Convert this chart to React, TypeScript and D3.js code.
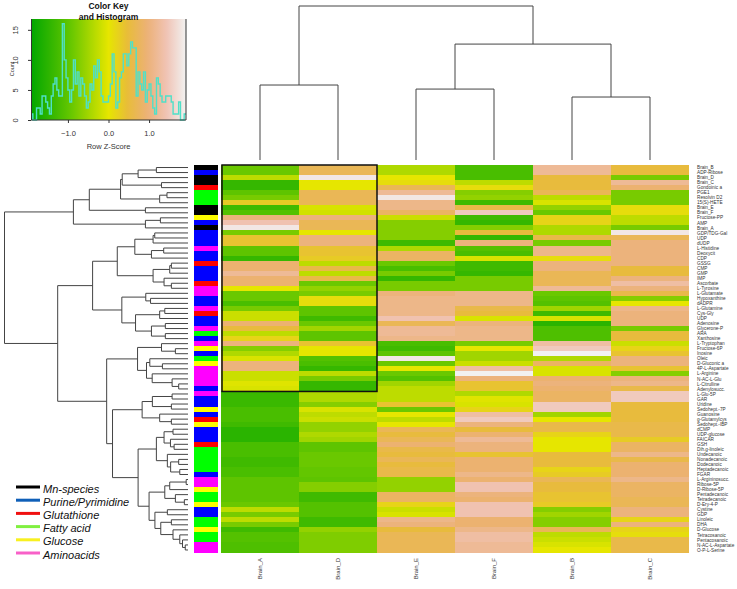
import { useEffect, useRef } from "react";
import * as d3 from "d3";

const columns = ["Brain_A", "Brain_D", "Brain_E", "Brain_F", "Brain_B", "Brain_C"];

const rowLabels = [
  "Brain_B", "ADP-Ribose", "Brain_D", "Brain_C", "Gondoinic a", "PGE1", "Resolvin D2", "15(S)-HETE",
  "Brain_E", "Brain_F", "Fructose-PP", "AMP", "Brain_A", "GDP/TDG-Gal", "UDP", "dUDP", "L-Histidine",
  "Deoxycit", "CDP", "GSSG", "CMP", "GMP", "IMP", "Ascorbate", "L-Tyrosine", "L-Glutamate",
  "Hypoxanthine", "dADPR", "L-Glutamine", "Cys-Gly", "UDP", "Adenosine", "Glycerone-P", "ARA",
  "Xanthosine", "L-Tryptophan", "Fructose-6P", "Inosine", "Oleic", "D-Gluconic a", "4P-L-Aspartate",
  "L-Arginine", "N-AC-L-Glu", "L-Citrulline", "Adenylosucc.", "L-Glu-5P", "GAR", "Uridine",
  "Sedohept.-7P", "Guanosine", "g-Glutamylcys", "Sedohept.-IBP", "dCMP", "UDP-glucose", "FAICAR",
  "GSH", "Dih.g-linoleic", "Undecanoic", "Nonadecanoic", "Dodecanoic", "Heptadecanoic", "FGAR",
  "L-Argininosucc.", "Ribose-5P", "D-Ribose-5P", "Pentadecanoic", "Tetradecanoic", "D-Ery-4-P",
  "Cystine", "GDP", "Linoleic", "DHA", "D-Glucose", "Tetracosanoic", "Pentacosanoic",
  "N-AC-L-Aspartate", "O-P-L-Serine",
];

// row z-scores, one array per column
const brainA = [
  -0.9, -0.9, -0.3, -1.4, -1.4, -1, -0.8, 0.3, -1.3, -1.1, 1, 1.4, 1.8, -0.8, 0.4, 0.4, -1, -1, -1.4, 0.9,
  0.9, 1.2, 0.9, 0.9, 0, -0.9, -0.9, -1.2, -0.8, -0.2, -0.2, 0.9, 0.5, -0.3, 0.2, 1, -0.7, -0.4, -0.1, 1,
  1, -0.2, -0.2, -0.05, -0.1, -1.35, -1.35, -1.35, -1.2, -1.2, -1.2, -1.3, -1.5, -1.5, -1.5, -1.2, -1.2,
  -1.2, -1.3, -1.3, -1.2, -1.2, -1, -1, -1, -1, -1, -0.9, -0.3, -0.8, -0.3, -0.8, -1.3, -1.1, -1.1, -1.15, -1.15,
];
const brainD = [
  0.7, 0.7, 1.8, 0, 0, 0.7, 0.7, 0.7, -0.1, -0.15, 1, 0.7, 0.7, 0, 1, 1, 0.4, 0.4, 0.3, -0.3,
  0.6, -0.3, 0.6, -0.9, -0.6, -0.8, 0.1, 0.1, -1, -1, -1.3, -0.9, -0.5, -1, -1, 0.4, 0, 0, -1.1, -1.2,
  -1.4, -0.3, -0.8, -1.4, -1.4, -0.4, -0.4, -0.7, -0.1, -0.3, -0.2, -0.6, -0.6, -0.4, -0.5, -1, -1,
  -0.9, -0.9, -0.9, -0.95, -0.95, -1, -0.7, -0.7, -1.3, -1.3, -1.1, -1.1, -1.1, -1.3, -1.3, -0.6, -0.75, -0.75, -0.75, -0.75,
];
const brainE = [
  -0.4, -0.4, 0, 0.1, 0.7, 1.2, 1.8, 1.1, 1.1, 0.8, -0.2, -0.7, -0.7, -0.7, -0.7, -1.3, -0.4, 0.8, 0.8, -0.9,
  -1.2, -0.8, -1.4, -0.8, -0.8, 1, 1.1, 1.1, 1.1, 1.1, 1.4, 0.7, 1.2, 1.2, 1.1, -1.2, -1.3, -1, 1.8, -0.9,
  0, -0.9, -1.1, -0.5, -0.3, -0.3, -0.3, 0.4, -0.9, 0, -0.3, 0, 0.7, 0.5, 0.7, 0.9, 0.6, 0.5, 0.7, 0.5,
  0.6, 0.6, -0.6, -0.6, -0.6, 0.8, 0.8, 0.2, -0.2, -0.1, 1.1, 1, 0.5, 0.7, 0.7, 0.7, 0.7,
];
const brainF = [
  -1.2, -1.2, -1.2, -0.3, 0.1, -0.7, -0.6, -1.3, 0.6, 1.5, -1.3, -1.4, -0.7, 0.5, -1.4, 1, -1.1, -1.2, -0.1, -1.3,
  -1.3, -1.4, -0.8, -0.8, -0.8, 1.1, 1.1, 1.1, 0.6, 0.5, -0.1, 1, 1.1, 1.1, 1.1, -0.8, 0, -0.5, -0.5, -0.2,
  1.3, 1.9, 1, 0.4, 0.4, -0.4, -0.05, -0.1, 0.2, 1.3, 1.5, 1, 0.5, 0.9, 1.2, 1, 1, 0.4, 0.9, 0.9,
  0.9, 1.1, 0.9, 1.4, 1.4, 1, 0.9, 1.4, 1.4, 1.4, 0.9, 0.9, 1.1, 1.3, 1.3, 1.2, 1.2,
];
const brainB = [
  1.2, 1.2, 0.5, 0.5, 0.5, 0.7, -0.3, -0.1, -0.6, -0.9, 0.2, 0.2, -0.4, -0.4, 0.6, -0.8, 1.1, 1.1, 0.1, 1,
  1, 0.7, 0.7, 0.7, 1.2, -0.9, -1, -1.1, -0.5, -1.3, -0.1, -1.5, -1.15, -1.15, -1.15, 1.3, 1.5, 1.9, -0.4, 0.8,
  -0.1, -0.1, 0.9, 1, 0.9, 0.8, 0.8, 1.5, 1.5, -0.5, 0, 0.6, 0.6, 0.2, 0, 0, 0, 0.5, 0.5, 0.5,
  0.2, 0.3, 0.7, 0.5, 0.5, 0.4, 0.4, 0.3, -0.7, -0.5, -0.7, -0.7, 0.7, -0.3, -0.2, -0.1, 0,
];
const brainC = [
  0.5, 0.5, -0.8, 1.2, 0.9, -0.8, -0.8, -0.8, 0.1, 0.1, -0.3, -0.3, -0.8, 1.8, 0.7, 1, 1, 1, 1, 1,
  0.5, 0.5, 1, 1.3, 1, 0.6, -0.7, 0, 1.1, 1, 1, 1, -0.8, 0.5, 0.5, -0.2, 0.2, 0.4, 1, 1,
  0.4, -0.7, 1, 1.1, 0.6, 1.5, 1.5, 0.5, 0.5, 0.5, 0.5, 0.6, 0.6, 0.6, 0.3, 0.8, 0.8, 1.1, 0.6, 0.9,
  0.9, 0.9, 1.1, 0.8, 0.8, 0.8, 0.7, 0.7, 1, 1, 0.2, 1, 0.2, 0.1, 0.6, 0.6, 0.6,
];
const values = [brainA, brainD, brainE, brainF, brainB, brainC];

const classColors = { M: "#000000", P: "#0000ff", R: "#ff0000", G: "#00ff00", Y: "#ffff00", A: "#ff00ff" };
// row class side bar, top to bottom
const rowClasses =
  "MPMMRGGGMMYPMPPPAPPRPPPRAAPPARPPAGPAYPGYAAAAPAPPYPRYPPPRGGGGGPAAYGGYPPGGYGGAA";

const legendLabels = ["Mn-species", "Purine/Pyrimidine", "Glutathione", "Fatty acid", "Glucose", "Aminoacids"];
const legendColors = ["#000000", "#0f5fb8", "#f01010", "#80f040", "#f8f020", "#f860c8"];

// histogram counts of the colour key
const histCounts = [
  1, 0, 0, 2, 2, 1, 4, 4, 3, 2, 1, 4, 6, 7, 5, 4, 4, 16, 10, 7, 5, 3, 5, 10, 6, 8, 4, 7, 6, 4, 2, 3, 6, 5,
  9, 7, 10, 8, 4, 3, 3, 3, 4, 6, 11, 8, 2, 3, 7, 8, 11, 11, 9, 11, 13, 12, 12, 4, 8, 6, 5, 8, 3, 5, 6, 4,
  2, 1, 7, 6, 4, 3, 3, 4, 4, 4, 3, 1, 1, 1, 3, 0, 0, 1,
];

// dendrograms: [height, left, right], a plain number is a leaf
type Tree = number | [number, Tree, Tree];

const rowTree: Tree = [10.04,
  [6.27,
    [5.4,
      [3.69,
        [3.6, [2.73, [1.73, 0, 1], 2], [1.45, 3, 4]],
        [1.55, [1.15, 5, 6], 7],
      ],
      [2.33, 8, 9],
    ],
    [2.33, [1.51, 10, 11], 12],
  ],
  [7.13,
    [5.22,
      [3.87,
        [2.91, [1.91, [1.82, 13, 14], 15], [2.0, [1.33, 16, 17], 18]],
        [1.91, [1.0, [0.91, 19, 20], 21], [1.31, 22, [0.91, 23, 24]]],
      ],
      [3.62,
        [2.31, 25, [2.05, 26, 27]],
        [2.87,
          [1.55, [1.27, 28, 29], 30],
          [2.0, [1.24, 31, 32], [1.24, 33, 34]],
        ],
      ],
    ],
    [4.45,
      [2.76,
        [1.45, 35, [0.69, 36, 37]],
        [2.27,
          [2.09, 38, [1.4, 39, 40]],
          [1.96, 41, [0.87, 42, [0.51, 43, 44]]],
        ],
      ],
      [4.13,
        [2.51,
          [1.95, [0.87, 45, 46], [0.91, 47, 48]],
          [1.55, 49, [0.91, 50, 51]],
        ],
        [2.73,
          [1.73,
            [1.31, [0.82, 52, 53], [0.96, 54, [0.76, 55, 56]]],
            [1.13, 57, [0.95, [0.51, 58, 59], [0.45, 60, 61]]],
          ],
          [2.13,
            [1.27, [1.0, [0.1, 62, 63], 64], [0.69, 65, [0.2, 66, 67]]],
            [1.81,
              [1.13, 68, 69],
              [1.49, [0.91, 70, 71], [0.82, 72, [0.45, 73, [0.3, 74, [0.15, 75, 76]]]]],
            ],
          ],
        ],
      ],
    ],
  ],
];

const colTree: Tree = [10.27,
  [5, 0, 1],
  [7.73, [4.73, 2, 3], [4.2, 4, 5]],
];

const sans = "'Liberation Sans', Arial, sans-serif";

// draws the elbows of a tree; pos gives the leaf position, depth the height position
function drawTree(g, tree: Tree, pos: (i: number) => number, depth: (h: number) => number, vertical: boolean) {
  const root = d3.hierarchy<Tree>(tree, (d) => (typeof d === "number" ? null : [d[1], d[2]]));
  root.eachAfter((n: any) => {
    if (n.children) {
      n.p = (n.children[0].p + n.children[1].p) / 2;
      n.h = n.data[0];
    } else {
      n.p = pos(n.data);
      n.h = 0;
    }
  });
  const path = d3.path();
  root.each((n: any) => {
    if (!n.children) return;
    const [a, b] = n.children;
    const xy = (p: number, h: number): [number, number] => (vertical ? [p, depth(h)] : [depth(h), p]);
    path.moveTo(...xy(a.p, a.h));
    path.lineTo(...xy(a.p, n.h));
    path.lineTo(...xy(b.p, n.h));
    path.lineTo(...xy(b.p, b.h));
  });
  g.append("path").attr("d", path.toString()).attr("fill", "none").attr("stroke", "#444").attr("stroke-width", 1);
}

export default function App() {
  const svgRef = useRef<SVGSVGElement>(null);

  useEffect(() => {
    const svg = d3.select(svgRef.current);
    svg.selectAll("*").remove();

    const color = d3
      .scaleLinear<string>()
      .domain([-1.91, -0.95, 0, 0.475, 0.95, 1.43, 1.91])
      .range(["#00a600", "#63c600", "#e6e600", "#e8bc3a", "#ecb176", "#f0c3b4", "#f2f2f2"])
      .clamp(true);

    const x = d3.scaleBand<number>().domain(d3.range(columns.length)).range([221, 689]);
    const y = d3.scaleBand<number>().domain(d3.range(rowLabels.length)).range([165, 552.5]);

    // heatmap cells
    const cells = svg.append("g").attr("shape-rendering", "crispEdges");
    values.forEach((col, c) => {
      cells
        .selectAll(null)
        .data(col)
        .join("rect")
        .attr("x", x(c)!)
        .attr("y", (_, r) => y(r)!)
        .attr("width", x.bandwidth())
        .attr("height", y.bandwidth() + 0.5)
        .attr("fill", (d) => color(d));
    });

    // side colour bar
    svg
      .append("g")
      .attr("shape-rendering", "crispEdges")
      .selectAll("rect")
      .data(rowClasses.split(""))
      .join("rect")
      .attr("x", 194)
      .attr("width", 24)
      .attr("y", (_, r) => y(r)!)
      .attr("height", y.bandwidth() + 0.5)
      .attr("fill", (d) => classColors[d]);

    // box round the Brain_A / Brain_D block
    svg
      .append("rect")
      .attr("x", x(0)! + 1)
      .attr("y", y(0)!)
      .attr("width", 2 * x.bandwidth() - 1)
      .attr("height", y(45)! - y(0)!)
      .attr("fill", "none")
      .attr("stroke", "#111")
      .attr("stroke-width", 1.5);

    // row labels
    svg
      .append("g")
      .selectAll("text")
      .data(rowLabels)
      .join("text")
      .attr("x", 697)
      .attr("y", (_, r) => y(r)! + y.bandwidth() / 2)
      .attr("dy", "0.35em")
      .attr("font-family", sans)
      .attr("font-size", 4.7)
      .attr("fill", "#333")
      .text((d) => d);

    // column labels
    svg
      .append("g")
      .selectAll("text")
      .data(columns)
      .join("text")
      .attr("transform", (_, c) => `translate(${x(c)! + x.bandwidth() / 2},558) rotate(-90)`)
      .attr("dy", "0.35em")
      .attr("text-anchor", "end")
      .attr("font-family", sans)
      .attr("font-size", 6)
      .attr("fill", "#333")
      .text((d) => d);

    // dendrograms
    const rowDepth = d3.scaleLinear().domain([0, 10.04]).range([188, 4.5]);
    drawTree(svg.append("g"), rowTree, (i) => y(i)! + y.bandwidth() / 2, rowDepth, false);
    const colDepth = d3.scaleLinear().domain([0, 10.27]).range([160, 6]);
    drawTree(svg.append("g"), colTree, (i) => x(i)! + x.bandwidth() / 2, colDepth, true);

    // colour key
    const keyX = d3.scaleLinear().domain([-1.91, 1.91]).range([31, 186]);
    const keyY = d3.scaleLinear().domain([0, 16.8]).range([120, 19]);
    const grad = svg.append("defs").append("linearGradient").attr("id", "key-gradient");
    d3.range(0, 1.001, 0.02).forEach((t) => {
      grad
        .append("stop")
        .attr("offset", t)
        .attr("stop-color", color(-1.91 + t * 3.82));
    });
    svg
      .append("rect")
      .attr("x", keyX.range()[0])
      .attr("y", keyY.range()[1])
      .attr("width", keyX.range()[1] - keyX.range()[0])
      .attr("height", keyY.range()[0] - keyY.range()[1])
      .attr("fill", "url(#key-gradient)");

    const binWidth = 3.82 / histCounts.length;
    const stepLine = d3
      .line<number>()
      .x((_, i) => keyX(-1.91 + i * binWidth))
      .y((d) => keyY(d))
      .curve(d3.curveStepAfter);
    svg
      .append("path")
      .attr("d", stepLine([...histCounts, histCounts[histCounts.length - 1]]))
      .attr("fill", "none")
      .attr("stroke", "#4fe0c8")
      .attr("stroke-width", 1.4);

    // frame on the bottom and right of the key
    svg
      .append("path")
      .attr("d", `M${keyX.range()[0]},${keyY.range()[0]}H${keyX.range()[1]}V${keyY.range()[1]}`)
      .attr("fill", "none")
      .attr("stroke", "#333");

    const xAxis = svg
      .append("g")
      .attr("transform", "translate(0,120)")
      .call(d3.axisBottom(keyX).tickValues([-1, 0, 1]).tickSize(3).tickPadding(8));
    const yAxis = svg
      .append("g")
      .attr("transform", "translate(31,0)")
      .call(d3.axisLeft(keyY).tickValues([0, 5, 10, 15]).tickSize(3));
    xAxis.select("path.domain").remove();
    yAxis.select("path.domain").attr("d", `M0.5,${keyY(16.8)}V${keyY(0)}`).attr("stroke", "#333");
    yAxis
      .selectAll("g.tick text")
      .attr("x", null)
      .attr("dy", null)
      .attr("text-anchor", "middle")
      .attr("transform", "translate(-13,0) rotate(-90)");
    svg.selectAll("g.tick text").attr("font-family", sans).attr("font-size", 7.5).attr("fill", "#333");
    svg.selectAll("g.tick line").attr("stroke", "#333");

    const keyText = (tx: number, ty: number, s: string, size: number, bold = false, rot = false) =>
      svg
        .append("text")
        .attr("transform", `translate(${tx},${ty})${rot ? " rotate(-90)" : ""}`)
        .attr("text-anchor", "middle")
        .attr("font-family", sans)
        .attr("font-size", size)
        .attr("font-weight", bold ? "bold" : "normal")
        .attr("fill", bold ? "#111" : "#333")
        .text(s);
    keyText(108.5, 9, "Color Key", 8.5, true);
    keyText(108.5, 20, "and Histogram", 8.5, true);
    keyText(108.5, 149, "Row Z-Score", 7.5);
    keyText(14, 69, "Count", 5.5, false, true);

    // legend
    const legendY = d3.scalePoint<string>().domain(legendLabels).range([487, 553]);
    const legend = svg
      .append("g")
      .selectAll("g")
      .data(legendLabels)
      .join("g")
      .attr("transform", (d) => `translate(0,${legendY(d)})`);
    legend
      .append("line")
      .attr("x1", 16)
      .attr("x2", 40)
      .attr("stroke", (_, i) => legendColors[i])
      .attr("stroke-width", 3);
    legend
      .append("text")
      .attr("x", 43)
      .attr("dy", "0.5em")
      .attr("font-family", sans)
      .attr("font-style", "italic")
      .attr("font-size", 11)
      .attr("fill", "#111")
      .text((d) => d);
  }, []);

  return (
    <svg
      ref={svgRef}
      width={737}
      height={589}
      style={{ position: "absolute", left: 0, top: 0, background: "#fff", display: "block" }}
    />
  );
}
